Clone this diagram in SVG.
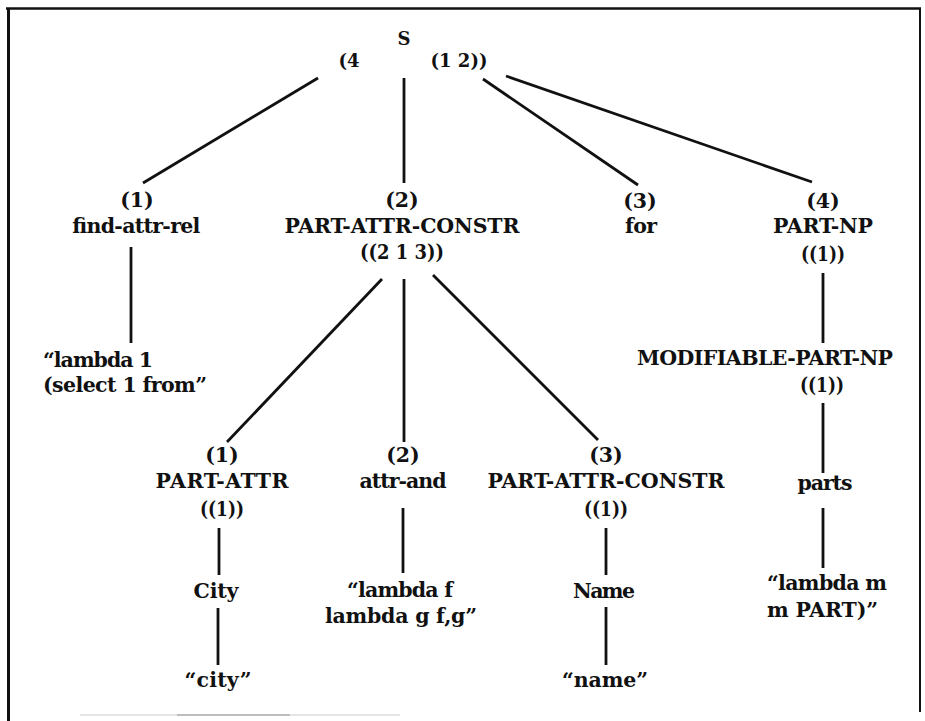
<svg xmlns="http://www.w3.org/2000/svg" width="925" height="721" viewBox="0 0 925 721">
<style>
text{font-family:"DejaVu Serif","Liberation Serif",serif;font-weight:bold;font-size:20.5px;fill:#111}
.t{font-size:18px}
.m{text-anchor:middle}
.s{text-anchor:start}
.e line{stroke:#111;stroke-width:2.8;stroke-linecap:butt}
.frame{stroke:#111;fill:none}
</style>
<rect width="925" height="721" fill="#fff"/>
<g id="frame">
<line class="frame" x1="6" y1="8.5" x2="921" y2="8.5" stroke-width="2.5"/>
<line class="frame" x1="8.5" y1="8" x2="8.5" y2="721" stroke-width="3"/>
<line class="frame" x1="920" y1="8" x2="920" y2="712" stroke-width="2"/>
<line x1="80" y1="715" x2="400" y2="715" stroke="#dcdcdc" stroke-width="1.5"/>
<line x1="177" y1="715" x2="290" y2="715" stroke="#b0b0b0" stroke-width="1.5"/>
</g>
<g id="edges" class="e">
<line x1="318" y1="78" x2="143" y2="183"/>
<line x1="404" y1="78" x2="404" y2="183"/>
<line x1="483" y1="79" x2="638" y2="185"/>
<line x1="506" y1="76" x2="812" y2="182"/>
<line x1="131" y1="247" x2="131" y2="343"/>
<line x1="382" y1="279" x2="227" y2="442"/>
<line x1="404" y1="279" x2="404" y2="442"/>
<line x1="433" y1="275" x2="598" y2="440"/>
<line x1="823" y1="273" x2="823" y2="343"/>
<line x1="823" y1="403" x2="823" y2="473"/>
<line x1="823" y1="508" x2="823" y2="568"/>
<line x1="219" y1="528" x2="219" y2="575"/>
<line x1="218" y1="608" x2="218" y2="665"/>
<line x1="403" y1="508" x2="403" y2="573"/>
<line x1="606" y1="528" x2="606" y2="575"/>
<line x1="606" y1="607" x2="606" y2="665"/>
</g>
<g id="S">
<text class="m t" x="404" y="45">S</text>
<text class="m t" x="349" y="67">(4</text>
<text class="m t" x="459" y="67">(1 2))</text>
</g>
<g id="find-attr-rel">
<text class="m" x="137" y="207">(1)</text>
<text class="m" x="136" y="233" textLength="128">find-attr-rel</text>
</g>
<g id="lambda1">
<text class="s" x="43" y="367" textLength="110">“lambda 1</text>
<text class="s" x="43" y="392" textLength="164">(select 1 from”</text>
</g>
<g id="part-attr-constr">
<text class="m" x="402" y="207">(2)</text>
<text class="m" x="402" y="233" textLength="235">PART-ATTR-CONSTR</text>
<text class="m" x="402" y="259" textLength="84" lengthAdjust="spacingAndGlyphs">((2 1 3))</text>
</g>
<g id="for">
<text class="m" x="640" y="208">(3)</text>
<text class="m" x="641" y="233" textLength="32">for</text>
</g>
<g id="part-np">
<text class="m" x="823" y="208">(4)</text>
<text class="m" x="823" y="233" textLength="100">PART-NP</text>
<text class="m" x="823" y="261" textLength="44" lengthAdjust="spacingAndGlyphs">((1))</text>
</g>
<g id="modifiable-part-np">
<text class="m" x="765" y="365" textLength="256">MODIFIABLE-PART-NP</text>
<text class="m" x="822" y="392" textLength="44" lengthAdjust="spacingAndGlyphs">((1))</text>
</g>
<g id="parts">
<text class="m" x="825" y="490" textLength="55">parts</text>
</g>
<g id="lambda-m">
<text class="s" x="767" y="590" textLength="120">“lambda m</text>
<text class="s" x="767" y="617" textLength="111">m PART)”</text>
</g>
<g id="part-attr">
<text class="m" x="222" y="462">(1)</text>
<text class="m" x="222" y="488" textLength="133">PART-ATTR</text>
<text class="m" x="222" y="516" textLength="44" lengthAdjust="spacingAndGlyphs">((1))</text>
</g>
<g id="city">
<text class="m" x="216" y="598" textLength="45">City</text>
</g>
<g id="city-str">
<text class="m" x="218" y="687" textLength="67">“city”</text>
</g>
<g id="attr-and">
<text class="m" x="403" y="462">(2)</text>
<text class="m" x="403" y="488" textLength="87">attr-and</text>
</g>
<g id="lambda-f">
<text class="m" x="400" y="597" textLength="106">“lambda f</text>
<text class="m" x="401" y="623" textLength="152">lambda g  f,g”</text>
</g>
<g id="part-attr-constr-2">
<text class="m" x="606" y="462">(3)</text>
<text class="m" x="606" y="488" textLength="237">PART-ATTR-CONSTR</text>
<text class="m" x="606" y="516" textLength="44" lengthAdjust="spacingAndGlyphs">((1))</text>
</g>
<g id="name">
<text class="m" x="604" y="598" textLength="62">Name</text>
</g>
<g id="name-str">
<text class="m" x="605" y="687" textLength="86">“name”</text>
</g>
</svg>
